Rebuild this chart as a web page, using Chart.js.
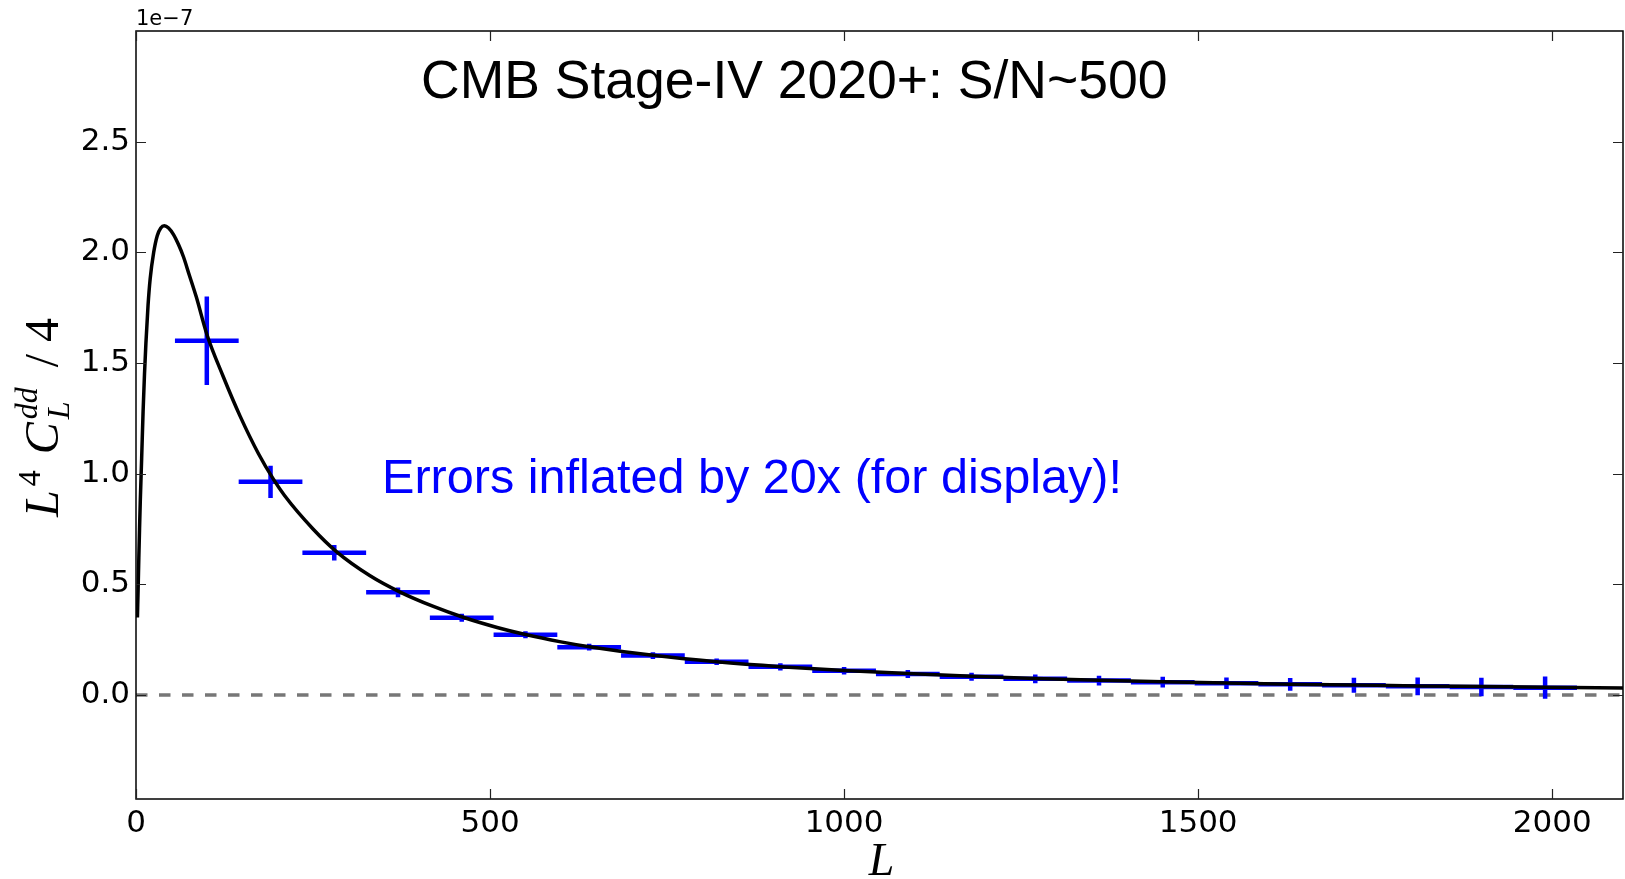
<!DOCTYPE html>
<html><head><meta charset="utf-8">
<script src="https://cdn.jsdelivr.net/npm/chart.js@4.4.0/dist/chart.umd.min.js"></script>
<style>html,body{margin:0;padding:0;background:#fff;}canvas{display:block}</style>
</head><body>
<canvas id="c" width="1625" height="879"></canvas>
<script>
// ---- data (y values in units of 1e-7) ----
const yUnitLabel = '1e\u22127';
const titleParts = ['CMB Stage-IV ', '2020+', ': S/N~500'];
const noteText = 'Errors inflated by 20x (for display)!';
const xTickValues = [0, 500, 1000, 1500, 2000];
const xTickLabels = ['0', '500', '1000', '1500', '2000'];
const yTickValues = [0.0, 0.5, 1.0, 1.5, 2.0, 2.5];
const xLimits = [0, 2100];
const yLimits = [-0.47, 3.0];
const zeroLineValue = 0;

const curveL = [2, 3, 4, 5, 6, 8, 10, 12, 14, 17, 20, 25, 30, 35, 40, 46, 53, 60, 67, 75, 85, 100, 123, 147, 173, 194, 210, 250, 283, 330, 373, 420, 463, 510, 550, 600, 640, 730, 820, 910, 1000, 1090, 1180, 1270, 1360, 1450, 1540, 1630, 1720, 1810, 1900, 1990, 2100];
const curveV = [0.35, 0.48, 0.62, 0.75, 0.87, 1.07, 1.28, 1.45, 1.59, 1.76, 1.88, 2.00, 2.075, 2.11, 2.12, 2.11, 2.08, 2.035, 1.98, 1.90, 1.80, 1.63, 1.44, 1.26, 1.09, 0.975, 0.90, 0.75, 0.648, 0.540, 0.465, 0.400, 0.350, 0.305, 0.273, 0.240, 0.218, 0.179, 0.150, 0.128, 0.111, 0.097, 0.085, 0.075, 0.067, 0.060, 0.054, 0.049, 0.045, 0.041, 0.038, 0.035, 0.032];

const binCenters = [100, 190, 280, 370, 460, 550, 640, 730, 820, 910, 1000, 1090, 1180, 1270, 1360, 1450, 1540, 1630, 1720, 1810, 1900, 1990];
const binHalfWidth = 45;
const binValues = [1.60, 0.963, 0.643, 0.464, 0.349, 0.272, 0.216, 0.178, 0.150, 0.127, 0.109, 0.095, 0.082, 0.073, 0.065, 0.058, 0.053, 0.048, 0.044, 0.039, 0.036, 0.033];
const binErrors = [0.20, 0.073, 0.035, 0.022, 0.018, 0.016, 0.015, 0.015, 0.015, 0.016, 0.017, 0.018, 0.018, 0.020, 0.022, 0.024, 0.026, 0.029, 0.034, 0.040, 0.042, 0.050];

// ---- build datasets ----
const curveData = curveL.map((l, i) => ({x: l, y: curveV[i]}));
const zeroData = xLimits.map(x => ({x: x, y: zeroLineValue}));

const SANS = '"Liberation Sans", Arial, Helvetica, sans-serif';
const SERIF = '"Liberation Serif", "Times New Roman", serif';
const TICKFONT = '"DejaVu Sans", sans-serif';

const errorBarPlugin = {
  id: 'errorBars',
  beforeDatasetDraw(chart, args) {
    if (args.index !== 0) return;
    const {ctx, chartArea} = chart;
    const xs = chart.scales.x, ys = chart.scales.y;
    ctx.save();
    ctx.beginPath();
    ctx.rect(chartArea.left, chartArea.top, chartArea.right - chartArea.left, chartArea.bottom - chartArea.top);
    ctx.clip();
    ctx.strokeStyle = '#0000ff';
    ctx.lineWidth = 4.5;
    ctx.lineCap = 'butt';
    binCenters.forEach((c, i) => {
      const y = ys.getPixelForValue(binValues[i]);
      const x0 = xs.getPixelForValue(c - binHalfWidth);
      const x1 = xs.getPixelForValue(c + binHalfWidth);
      const xc = xs.getPixelForValue(c);
      const ya = ys.getPixelForValue(binValues[i] + binErrors[i]);
      const yb = ys.getPixelForValue(binValues[i] - binErrors[i]);
      ctx.beginPath();
      ctx.moveTo(x0, y); ctx.lineTo(x1, y);
      ctx.moveTo(xc, ya); ctx.lineTo(xc, yb);
      ctx.stroke();
    });
    ctx.restore();
  }
};

const decorPlugin = {
  id: 'decor',
  afterDraw(chart) {
    const {ctx, chartArea: a} = chart;
    const xs = chart.scales.x, ys = chart.scales.y;
    ctx.save();
    // frame
    ctx.strokeStyle = '#000';
    ctx.lineWidth = 1.5;
    ctx.strokeRect(a.left, a.top, a.right - a.left, a.bottom - a.top);
    // inward ticks
    ctx.lineWidth = 1.2;
    ctx.strokeStyle = '#222';
    const tl = 10;
    ctx.beginPath();
    xTickValues.forEach(v => {
      const x = Math.round(xs.getPixelForValue(v)) + 0.5;
      ctx.moveTo(x, a.bottom); ctx.lineTo(x, a.bottom - tl);
      ctx.moveTo(x, a.top); ctx.lineTo(x, a.top + tl);
    });
    yTickValues.forEach(v => {
      const y = Math.round(ys.getPixelForValue(v)) + 0.5;
      ctx.moveTo(a.left, y); ctx.lineTo(a.left + tl, y);
      ctx.moveTo(a.right, y); ctx.lineTo(a.right - tl, y);
    });
    ctx.stroke();

    // x tick labels
    ctx.fillStyle = '#000';
    ctx.textBaseline = 'alphabetic';
    ctx.textAlign = 'center';
    ctx.font = '31px ' + TICKFONT;
    xTickValues.forEach((v, i) => {
      ctx.fillText(xTickLabels[i], xs.getPixelForValue(v), a.bottom + 33);
    });

    // offset text
    ctx.textAlign = 'left';
    ctx.font = '21px ' + TICKFONT;
    ctx.fillText(yUnitLabel, a.left, a.top - 6);

    // title
    ctx.font = '53.5px ' + SANS;
    let tx = a.left + 285;
    const ty = a.top + 67;
    titleParts.forEach(p => { ctx.fillText(p, tx, ty); tx += ctx.measureText(p).width; });

    // note
    ctx.fillStyle = '#0000ff';
    ctx.font = '48.6px ' + SANS;
    ctx.fillText(noteText, a.left + 246, a.top + 462);

    // x label
    ctx.fillStyle = '#000';
    ctx.font = 'italic 46px ' + SERIF;
    ctx.textAlign = 'center';
    ctx.fillText('L', (a.left + a.right) / 2 + 2, 875);

    // y label: L^4 C_L^dd / 4 (rotated)
    ctx.save();
    ctx.translate(58, (a.top + a.bottom) / 2 + 102);
    ctx.rotate(-Math.PI / 2);
    ctx.textAlign = 'left';
    let px = 0;
    const big = 'italic 48px ' + SERIF, small = 'italic 32px ' + SERIF;
    const bigUp = '48px ' + SERIF, smallUp = '32px ' + SERIF;
    ctx.font = big; ctx.fillText('L', px, 0); px += ctx.measureText('L').width + 4;
    ctx.font = smallUp; ctx.fillText('4', px, -18); px += ctx.measureText('4').width + 16;
    ctx.font = big; ctx.fillText('C', px, 0); px += ctx.measureText('C').width + 3;
    ctx.font = small; ctx.fillText('dd', px, -21); const w1 = ctx.measureText('dd').width;
    ctx.fillText('L', px, 11); const w2 = ctx.measureText('L').width;
    px += Math.max(w1, w2) + 20;
    ctx.font = bigUp; ctx.fillText('/', px, 0); px += ctx.measureText('/').width + 12;
    ctx.fillText('4', px, 0);
    ctx.restore();

    ctx.restore();
  }
};

new Chart(document.getElementById('c'), {
  type: 'line',
  data: {
    datasets: [
      {
        data: curveData,
        borderColor: '#000',
        borderWidth: 3.5,
        pointRadius: 0,
        cubicInterpolationMode: 'monotone',
        fill: false
      },
      {
        data: zeroData,
        borderColor: '#777777',
        borderWidth: 3.5,
        borderDash: [11.5, 11.5],
        pointRadius: 0,
        fill: false
      }
    ]
  },
  options: {
    responsive: false,
    devicePixelRatio: 1,
    animation: false,
    events: [],
    layout: {padding: {top: 31, right: 2, left: 0, bottom: 0}},
    plugins: {legend: {display: false}, tooltip: {enabled: false}, title: {display: false}},
    scales: {
      x: {
        type: 'linear',
        min: xLimits[0], max: xLimits[1],
        grid: {display: false, drawTicks: false},
        border: {display: false},
        ticks: {display: false, stepSize: 500},
        afterFit: s => { s.height = 80; }
      },
      y: {
        type: 'linear',
        min: yLimits[0], max: yLimits[1],
        grid: {display: false, drawTicks: false},
        border: {display: false},
        ticks: {
          stepSize: 0.5, includeBounds: false, padding: 6, autoSkip: false,
          color: '#000', font: {family: TICKFONT, size: 31},
          callback: v => {
            const r = Math.round(v * 10) / 10;
            return yTickValues.some(t => Math.abs(t - r) < 1e-9) ? Math.abs(r).toFixed(1) : null;
          }
        },
        afterFit: s => { s.width = 136; }
      }
    }
  },
  plugins: [errorBarPlugin, decorPlugin]
});
</script>
</body></html>
